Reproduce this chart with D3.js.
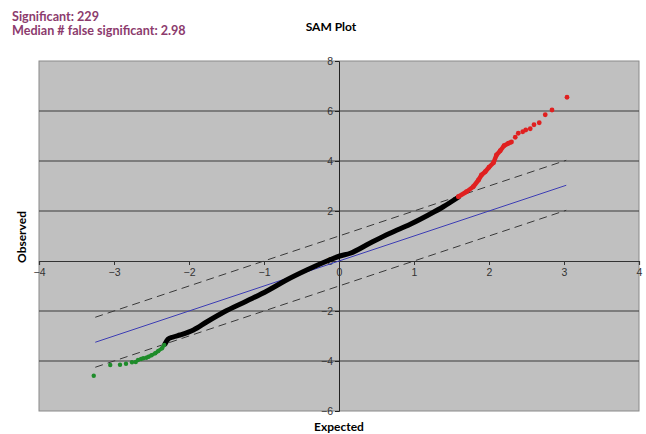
<!DOCTYPE html>
<html>
<head>
<meta charset="utf-8">
<script src="https://cdn.jsdelivr.net/npm/d3@7"></script>
<style>
  body { margin: 0; background: #fff; }
  svg { display: block; }
</style>
</head>
<body>
<svg id="chart" width="646" height="434"></svg>
<script>
// values
let xTicks = [-4, -3, -2, -1, 0, 1, 2, 3, 4];
let yTicks = [-6, -4, -2, 0, 2, 4, 6, 8];

// significant negative genes (green)
let greenExpected = [-3.27, -3.05, -2.92, -2.84, -2.76, -2.71, -2.68, -2.64, -2.61, -2.57, -2.54, -2.50, -2.45, -2.41, -2.36, -2.33];
let greenObserved = [-4.59, -4.16, -4.15, -4.11, -4.05, -4.04, -3.96, -3.92, -3.89, -3.87, -3.83, -3.77, -3.69, -3.60, -3.49, -3.36];

// non significant genes (black)
let blackExpected = [-2.32, -2.28, -2.21, -2.12, -1.94, -1.76, -1.54, -1.23, -0.96, -0.70, -0.43, -0.16, 0.01, 0.15, 0.41, 0.68, 0.95, 1.21, 1.39, 1.59];
let blackObserved = [-3.32, -3.13, -3.04, -2.96, -2.76, -2.43, -2.05, -1.60, -1.20, -0.76, -0.36, 0.00, 0.20, 0.31, 0.71, 1.11, 1.47, 1.87, 2.17, 2.55];

// significant positive genes (red)
let redExpected = [1.59, 1.70, 1.79, 1.86, 1.90, 1.95, 2.00, 2.06, 2.10, 2.15, 2.20, 2.26, 2.30, 2.35, 2.39, 2.45, 2.49, 2.55, 2.60, 2.67, 2.75, 2.84, 3.04];
let redObserved = [2.57, 2.77, 2.97, 3.24, 3.44, 3.57, 3.75, 3.93, 4.24, 4.41, 4.61, 4.71, 4.76, 4.95, 5.11, 5.17, 5.24, 5.29, 5.45, 5.53, 5.85, 6.04, 6.55];

// reference line and delta band
let refRange = [-3.25, 3.03];
let delta = 1;

let svg = d3.select("#chart");

let x = d3.scaleLinear().domain([-4, 4]).range([39, 639]);
let y = d3.scaleLinear().domain([-6, 8]).range([411, 61]);

// plot area
svg.append("rect")
    .attr("x", x(-4)).attr("y", y(8))
    .attr("width", x(4) - x(-4)).attr("height", y(-6) - y(8))
    .attr("fill", "#c0c0c0")
    .attr("stroke", "#8a8a8a");

// horizontal gridlines
svg.append("g")
    .selectAll("line")
    .data(yTicks.filter(d => d != 8 && d != -6 && d != 0))
    .enter().append("line")
    .attr("x1", x(-4)).attr("x2", x(4))
    .attr("y1", d => y(d)).attr("y2", d => y(d))
    .attr("stroke", "#3a3a3a")
    .attr("stroke-width", 1.2);

// x axis through y = 0
let xAxis = d3.axisBottom(x).tickValues(xTicks).tickSize(4).tickPadding(4).tickFormat(d3.format("d"));
let gx = svg.append("g").attr("transform", "translate(0," + y(0) + ")").call(xAxis);
gx.select(".domain").attr("stroke", "#333").attr("stroke-width", 1.2);
gx.selectAll(".tick line").attr("stroke", "#333");
gx.selectAll("text").attr("fill", "#333").style("font", "10.5px 'Liberation Sans', Arial, sans-serif");

// y axis through x = 0
let yAxis = d3.axisLeft(y).tickValues(yTicks).tickSize(4).tickPadding(2).tickFormat(d3.format("d"));
let gy = svg.append("g").attr("transform", "translate(" + x(0) + ",0)").call(yAxis);
gy.select(".domain").attr("stroke", "#222");
gy.selectAll(".tick line").attr("stroke", "#222");
gy.selectAll("text").attr("fill", "#333").style("font", "10.5px 'Liberation Sans', Arial, sans-serif");

// delta band lines
[delta, -delta].forEach(function(off) {
    svg.append("line")
        .attr("x1", x(refRange[0])).attr("y1", y(refRange[0] + off))
        .attr("x2", x(refRange[1])).attr("y2", y(refRange[1] + off))
        .attr("stroke", "#3a3a3a")
        .attr("stroke-width", 1)
        .attr("stroke-dasharray", "8,5");
});

// reference line y = x
svg.append("line")
    .attr("x1", x(refRange[0])).attr("y1", y(refRange[0]))
    .attr("x2", x(refRange[1])).attr("y2", y(refRange[1]))
    .attr("stroke", "#3c3cb4")
    .attr("stroke-width", 1);

let line = d3.line().x(d => x(d[0])).y(d => y(d[1]));

// black curve
let black = d3.zip(blackExpected, blackObserved);
svg.append("path")
    .datum(black)
    .attr("d", line.curve(d3.curveMonotoneX))
    .attr("fill", "none")
    .attr("stroke", "#000")
    .attr("stroke-width", 5)
    .attr("stroke-linejoin", "round")
    .attr("stroke-linecap", "round");

// red: dense part drawn as thick line, every point as a dot
let red = d3.zip(redExpected, redObserved);
svg.append("path")
    .datum(red.slice(0, 13))
    .attr("d", line.curve(d3.curveLinear))
    .attr("fill", "none")
    .attr("stroke", "#e02020")
    .attr("stroke-width", 4.5)
    .attr("stroke-linejoin", "round");
svg.append("g").selectAll("circle")
    .data(red)
    .enter().append("circle")
    .attr("cx", d => x(d[0])).attr("cy", d => y(d[1]))
    .attr("r", 2.4)
    .attr("fill", "#e02020");

// green dots
let green = d3.zip(greenExpected, greenObserved);
svg.append("path")
    .datum(green.slice(9))
    .attr("d", line.curve(d3.curveLinear))
    .attr("fill", "none")
    .attr("stroke", "#1e8c2a")
    .attr("stroke-width", 3.5)
    .attr("stroke-linejoin", "round");
svg.append("g").selectAll("circle")
    .data(green)
    .enter().append("circle")
    .attr("cx", d => x(d[0])).attr("cy", d => y(d[1]))
    .attr("r", 2.2)
    .attr("fill", "#1e8c2a");

// texts
let heading = "Lato, 'DejaVu Sans', sans-serif";
svg.append("text").attr("x", 12).attr("y", 21)
    .attr("fill", "#8c3b6d").style("font", "bold 12.6px " + heading)
    .text("Significant: 229");
svg.append("text").attr("x", 12).attr("y", 35)
    .attr("fill", "#8c3b6d").style("font", "bold 12.6px " + heading)
    .text("Median # false significant: 2.98");

svg.append("text").attr("x", 331).attr("y", 31)
    .attr("text-anchor", "middle")
    .style("font", "bold 12px " + heading)
    .text("SAM Plot");

svg.append("text").attr("x", 339).attr("y", 431)
    .attr("text-anchor", "middle")
    .style("font", "bold 12px " + heading)
    .text("Expected");

svg.append("text")
    .attr("transform", "translate(26,237) rotate(-90)")
    .attr("text-anchor", "middle")
    .style("font", "bold 12px " + heading)
    .text("Observed");
</script>
</body>
</html>
